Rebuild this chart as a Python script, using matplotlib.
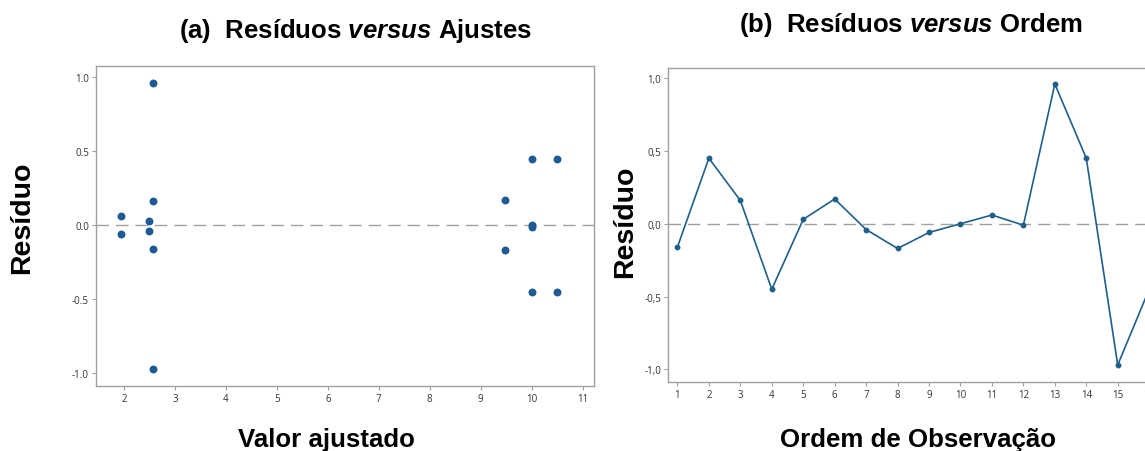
import matplotlib
matplotlib.use("Agg")
import matplotlib.pyplot as plt
from matplotlib.ticker import FuncFormatter

# residuals in observation order
order = list(range(1, 17))
residuals = [-0.16, 0.45, 0.16, -0.45, 0.03, 0.17, -0.04, -0.17,
             -0.06, 0.00, 0.06, -0.01, 0.96, 0.45, -0.97, -0.45]
# fitted value for each observation
fits = [2.57, 10.0, 2.57, 10.0, 2.50, 9.47, 2.50, 9.47,
        1.95, 10.0, 1.95, 10.0, 2.57, 10.5, 2.57, 10.5]

fit_ticks = list(range(2, 12))
res_ticks = [-1.0, -0.5, 0.0, 0.5, 1.0]

label_font = ["Liberation Sans", "DejaVu Sans"]
tick_font = ["Open Sans", "DejaVu Sans"]

plt.rcParams["mathtext.fontset"] = "custom"
plt.rcParams["mathtext.bfit"] = "Liberation Sans:italic:bold"
plt.rcParams["mathtext.rm"] = "Liberation Sans:bold"


def style_axes(ax):
    for s in ax.spines.values():
        s.set_color("#a0a0a0")
        s.set_linewidth(1.0)
    ax.tick_params(axis="both", direction="out", length=3, width=0.8,
                   color="#a0a0a0", labelsize=7, labelcolor="#333333", pad=2)
    for lab in ax.get_xticklabels() + ax.get_yticklabels():
        lab.set_family(tick_font)
    ax.axhline(0, color="#a0a0a0", lw=1.0, dashes=(9, 5), zorder=1)


def main():
    fig = plt.figure(figsize=(11.45, 4.52), dpi=100)

    ax1 = fig.add_axes([0.0838, 0.1438, 0.4349, 0.708])
    ax1.scatter(fits, residuals, s=22, color="#1f5a94", zorder=3)
    ax1.set_xlim(1.45, 11.22)
    ax1.set_ylim(-1.088, 1.076)
    ax1.set_xticks(fit_ticks)
    ax1.set_yticks(res_ticks)
    ax1.yaxis.set_major_formatter(FuncFormatter(lambda v, p: "%.1f" % v))
    style_axes(ax1)

    ax2 = fig.add_axes([0.5834, 0.1527, 0.4285, 0.6947])
    ax2.plot(order, residuals, color="#1f5f8b", lw=1.2, marker="o",
             markersize=3.2, zorder=3)
    ax2.set_xlim(0.7, 16.3)
    ax2.set_ylim(-1.087, 1.07)
    ax2.set_xticks(order)
    ax2.set_yticks(res_ticks)
    ax2.yaxis.set_major_formatter(FuncFormatter(lambda v, p: ("%.1f" % v).replace(".", ",")))
    style_axes(ax2)

    tkw = dict(fontsize=18.5, fontweight="bold", family=label_font, ha="center", va="baseline")
    fig.text(0.3108, 0.916, "(a)  Resíduos $\\mathbfit{versus}$ Ajustes", **tkw)
    fig.text(0.7956, 0.929, "(b)  Resíduos $\\mathbfit{versus}$ Ordem", **tkw)

    ykw = dict(fontsize=20.5, fontweight="bold", family=label_font,
               ha="center", va="center", rotation=90)
    fig.text(0.019, 0.518, "Resíduo", **ykw)
    fig.text(0.546, 0.509, "Resíduo", **ykw)
    xkw = dict(fontsize=18.6, fontweight="bold", family=label_font, ha="center", va="baseline")
    fig.text(0.2855, 0.012, "Valor ajustado", **xkw)
    fig.text(0.8017, 0.012, "Ordem de Observação", **xkw)

    fig.savefig("out.png", dpi=100)


if __name__ == "__main__":
    main()
